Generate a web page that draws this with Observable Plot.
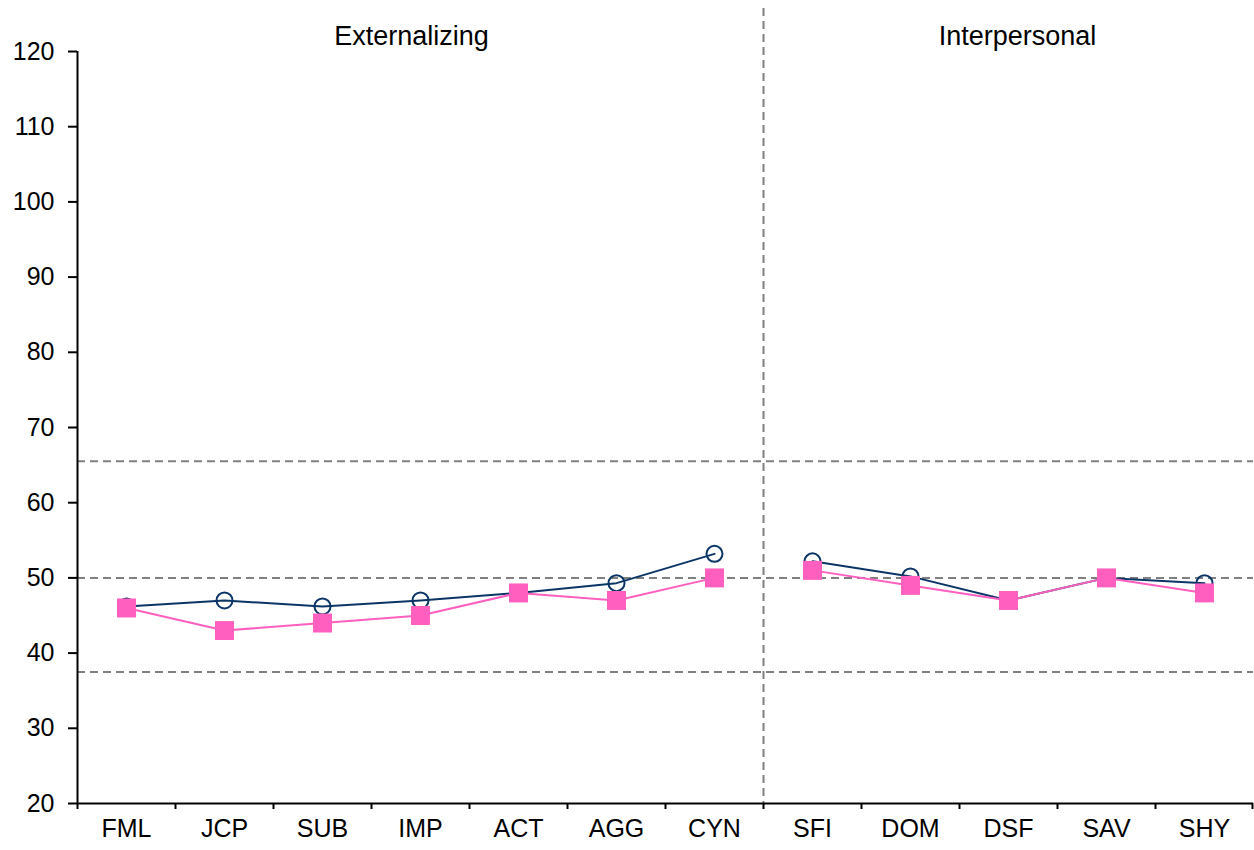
<!DOCTYPE html>
<html>
<head>
<meta charset="utf-8">
<script src="https://cdn.jsdelivr.net/npm/d3@7"></script>
<script src="https://cdn.jsdelivr.net/npm/@observablehq/plot@0.6"></script>
<style>
  html, body { margin: 0; padding: 0; background: #fff; }
  #chart { width: 1254px; height: 850px; }
</style>
</head>
<body>
<div id="chart"></div>
<script>
const categories = ["FML","JCP","SUB","IMP","ACT","AGG","CYN","SFI","DOM","DSF","SAV","SHY"];
const groups = ["Externalizing","Externalizing","Externalizing","Externalizing","Externalizing","Externalizing","Externalizing","Interpersonal","Interpersonal","Interpersonal","Interpersonal","Interpersonal"];
const seriesA = [46.2, 47.0, 46.2, 47.0, 48.0, 49.3, 53.2, 52.2, 50.2, 47.0, 50.0, 49.3];
const seriesB = [46.0, 43.0, 44.0, 45.0, 48.0, 47.0, 50.0, 51.0, 49.0, 47.0, 50.0, 48.0];
const refLines = [65.5, 50, 37.5];
const yTicks = [20,30,40,50,60,70,80,90,100,110,120];
const headingLeft = [{label: "Externalizing", at: "IMP"}];
const headingRight = [{label: "Interpersonal", at: "DSF"}];

const W = 1254, H = 850, ML = 77, MR = 1, MT = 51, MB = 47;
const bw = (W - ML - MR) / categories.length;

const rowsA = categories.map((c, i) => ({cat: c, group: groups[i], value: seriesA[i]}));
const rowsB = categories.map((c, i) => ({cat: c, group: groups[i], value: seriesB[i]}));

const navy = "#0b3566";
const pink = "#ff5fbf";
const grey = "#808080";
const FS = 25;
const HFS = 27;

const plot = Plot.plot({
  width: W, height: H,
  marginLeft: ML, marginRight: MR, marginTop: MT, marginBottom: MB,
  style: {fontFamily: "'Liberation Sans', Arial, sans-serif", fontSize: FS + "px", color: "#000", background: "#fff"},
  x: {type: "band", domain: categories, padding: 0, round: false, label: null},
  y: {domain: [20, 120], label: null},
  marks: [
    // reference lines
    Plot.ruleY(refLines, {stroke: grey, strokeWidth: 2, strokeDasharray: "8,5"}),
    // group divider
    Plot.ruleX(["SFI"], {dx: -bw / 2, stroke: grey, strokeWidth: 2, strokeDasharray: "8,5", insetTop: -43}),
    // axes lines
    Plot.ruleY([20], {stroke: "#000", strokeWidth: 2}),
    Plot.ruleX(["FML"], {dx: -bw / 2, stroke: "#000", strokeWidth: 2}),
    // boundary tick marks on x
    Plot.ruleX(categories, {dx: -bw / 2, y1: 20, y2: 20, insetBottom: -6, stroke: "#000", strokeWidth: 2}),
    Plot.ruleX(["SHY"], {dx: bw / 2 - 1, y1: 20, y2: 20, insetBottom: -6, stroke: "#000", strokeWidth: 2}),
    Plot.axisY({ticks: yTicks, tickSize: 9, tickPadding: 14, tickFormat: d => d, strokeWidth: 2, fontSize: FS}),
    Plot.axisX({tickSize: 0, tickPadding: 16, fontSize: FS}),
    // headings
    Plot.text(headingLeft, {x: "at", text: "label", frameAnchor: "top", dy: -15, dx: -9, fontSize: HFS, textAnchor: "middle", lineAnchor: "middle"}),
    Plot.text(headingRight, {x: "at", text: "label", frameAnchor: "top", dy: -15, dx: 9, fontSize: HFS, textAnchor: "middle", lineAnchor: "middle"}),
    // series lines
    Plot.line(rowsA, {x: "cat", y: "value", z: "group", stroke: navy, strokeWidth: 2}),
    Plot.line(rowsB, {x: "cat", y: "value", z: "group", stroke: pink, strokeWidth: 2}),
    Plot.dot(rowsA, {x: "cat", y: "value", r: 8, stroke: navy, strokeWidth: 2, fill: "none"}),
    Plot.dot(rowsB, {x: "cat", y: "value", symbol: "square", r: 10.7, fill: pink, stroke: "none"})
  ]
});
document.getElementById("chart").appendChild(plot);
</script>
</body>
</html>
